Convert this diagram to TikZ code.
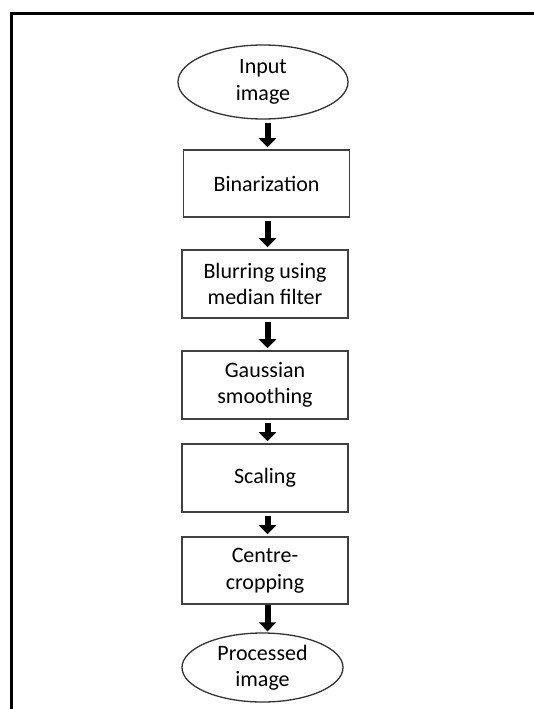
\documentclass[tikz,border=0pt]{standalone}
\usepackage{fontspec}
\setmainfont{Carlito}
\usetikzlibrary{shapes.geometric,arrows.meta}
\begin{document}
\begin{tikzpicture}[x=1pt,y=-1pt,
  every node/.style={font=\fontsize{22}{26.5}\selectfont, align=center, inner sep=0pt},
  stepbox/.style={draw=black!75, line width=1.6pt, rectangle, minimum width=166pt, minimum height=67pt},
  endcap/.style={draw=black!80, line width=1.3pt, ellipse},
  flow/.style={line width=6pt, -{Triangle[width=17pt,length=9pt]}, shorten <=3pt, shorten >=2pt}]
  \useasboundingbox (0,0) rectangle (534,709);
  % frame around the chart
  \draw[line width=3pt] (11.5,709) -- (11.5,13.5) -- (534,13.5);
  % chart nodes
  \node[endcap, minimum width=170pt, minimum height=74pt] (in) at (263,82) {Input\\image};
  \node[stepbox] (b1) at (266.5,183.5) {Binarization};
  \node[stepbox, minimum height=68pt] (b2) at (265,284) {Blurring using\\median filter};
  \node[stepbox, minimum height=68pt] (b3) at (265,385) {Gaussian\\smoothing};
  \node[stepbox, minimum height=68pt] (b4) at (265,478) {Scaling};
  \node[stepbox] (b5) at (265,570.5) {Centre-\\cropping};
  \node[endcap, minimum width=161pt, minimum height=69pt] (out) at (262.5,667.5) {Processed\\image};
  % connectors
  \coordinate (x) at (267.5,0);
  \draw[flow] (in.south -| x) -- (b1.north -| x);
  \draw[flow] (b1.south -| x) -- (b2.north -| x);
  \draw[flow] (b2.south -| x) -- (b3.north -| x);
  \draw[flow] (b3.south -| x) -- (b4.north -| x);
  \draw[flow] (b4.south -| x) -- (b5.north -| x);
  \draw[flow, shorten <=0pt, shorten >=1pt] (b5.south -| x) -- (out.north -| x);
\end{tikzpicture}
\end{document}
